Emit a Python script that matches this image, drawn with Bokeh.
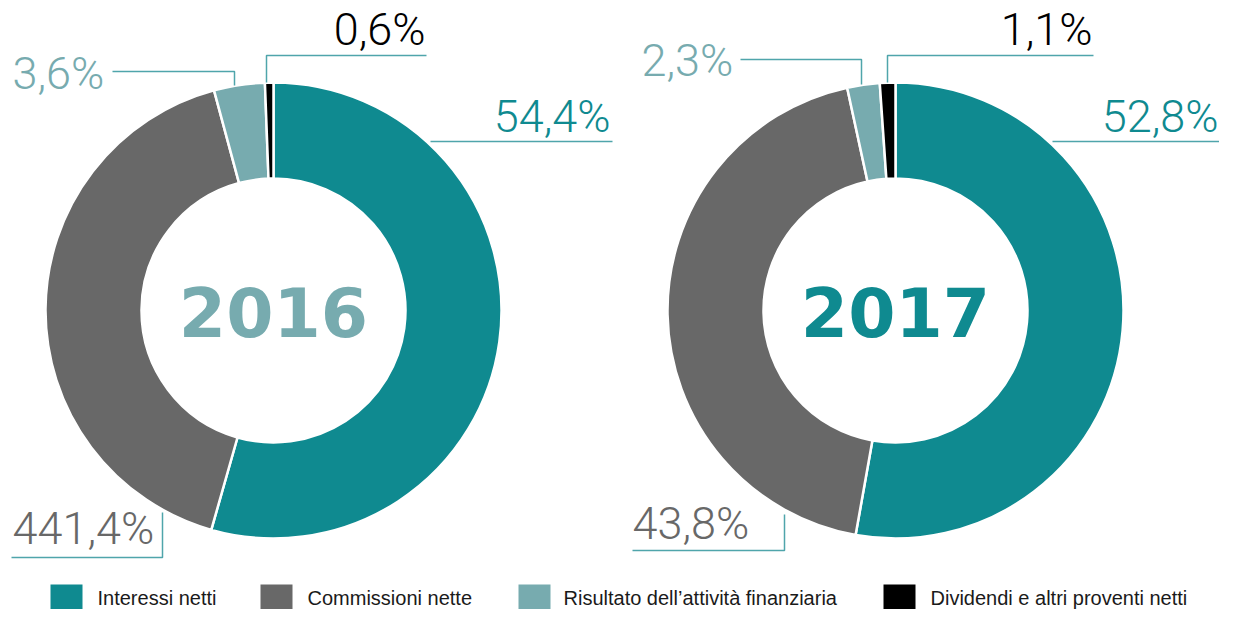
import numpy as np
from bokeh.plotting import figure
from bokeh.models import Range1d
from bokeh.core.properties import value
from bokeh.embed import file_html
from bokeh.resources import INLINE

# ---------------- data ----------------
categories = ["Interessi netti", "Commissioni nette",
              "Risultato dell\u2019attivit\u00e0 finanziaria",
              "Dividendi e altri proventi netti"]
years = ["2016", "2017"]
values_2016 = [54.4, 41.4, 3.6, 0.6]
values_2017 = [52.8, 43.8, 2.3, 1.1]
labels_2016 = ["54,4%", "441,4%", "3,6%", "0,6%"]
labels_2017 = ["52,8%", "43,8%", "2,3%", "1,1%"]
colors = ["#0F8A90", "#686868", "#77ABAF", "#000000"]
year_colors = ["#77ABAF", "#0F8A90"]

# ---------------- layout ----------------
W, H = 1219, 609


def Y(y):
    # pixel row (from top) -> data y
    return H - y


def TY(y_base, size, k):
    # baseline pixel row -> data y for text (compensate rendering offset)
    return H - y_base + k * size


p = figure(width=W, height=H, x_range=Range1d(0, W), y_range=Range1d(0, H),
           output_backend="svg", toolbar_location=None, min_border=0)
p.axis.visible = False
p.grid.visible = False
p.outline_line_color = None
p.background_fill_color = "white"
p.border_fill_color = "white"

centers_x = [273, 895]
center_y = 310
r_in, r_out = 132, 228

label_font = value("Roboto Light")
label_size = 45
line_col = "#4FA5AB"

# leader lines (layout) per year: lists in category order
leaders = [
    [([430, 612], [141, 141]),
     ([11, 162, 162], [557, 557, 512]),
     ([112, 234, 234], [71, 71, 85]),
     ([426, 266, 266], [55, 55, 82])],
    [([1052, 1219], [141, 141]),
     ([632, 784, 784], [550, 550, 514]),
     ([740, 861, 861], [59, 59, 84]),
     ([1093, 887, 887], [55, 55, 82])],
]
label_pos = [
    [(610, 132, "right"), (12, 544, "left"), (12, 89, "left"), (425, 45, "right")],
    [(1218, 132, "right"), (632, 539, "left"), (641, 76, "left"), (1092, 45, "right")],
]

for i, (vals, labs) in enumerate([(values_2016, labels_2016), (values_2017, labels_2017)]):
    fr = np.array(vals, dtype=float) / np.sum(vals)
    cum = np.concatenate([[0.0], np.cumsum(fr)])
    start = np.pi / 2 - 2 * np.pi * cum[:-1]
    end = np.pi / 2 - 2 * np.pi * cum[1:]
    n = len(vals)
    p.annular_wedge(x=[centers_x[i]] * n, y=[Y(center_y)] * n,
                    inner_radius=r_in, outer_radius=r_out,
                    start_angle=list(start), end_angle=list(end), direction="clock",
                    fill_color=colors, line_color="white", line_width=2.5)

    xs = [lx for lx, ly in leaders[i]]
    ys = [[Y(v) for v in ly] for lx, ly in leaders[i]]
    p.multi_line(xs=xs, ys=ys, line_color=line_col, line_width=1.5)

    for j, lab in enumerate(labs):
        x, yb, al = label_pos[i][j]
        p.text(x=[x], y=[TY(yb, label_size, 0.36)], text=[lab], text_color=colors[j],
               text_font=label_font, text_font_size=f"{label_size}px",
               text_align=al, text_baseline="alphabetic")

    p.text(x=[centers_x[i]], y=[TY(339, 68, 0.40)], text=[years[i]], text_color=year_colors[i],
           text_font=value("DejaVu Sans"), text_font_style="bold", text_font_size="68px",
           text_align="center", text_baseline="alphabetic")

# ---------------- legend ----------------
leg_sq_x = [50, 260, 518, 883]
leg_tx_x = [97, 307, 563, 930]
sq_w, sq_h, sq_top = 32, 26, 584
p.rect(x=[x + sq_w / 2 for x in leg_sq_x], y=[Y(sq_top + sq_h / 2)] * 4,
       width=sq_w, height=sq_h, fill_color=colors, line_color=None)
p.text(x=leg_tx_x, y=[TY(605, 20, 0.36)] * 4, text=categories, text_color="#1A1A1A",
       text_font=value("Liberation Sans"), text_font_size="20px",
       text_align="left", text_baseline="alphabetic")

open("out.html", "w").write(file_html(p, INLINE))
